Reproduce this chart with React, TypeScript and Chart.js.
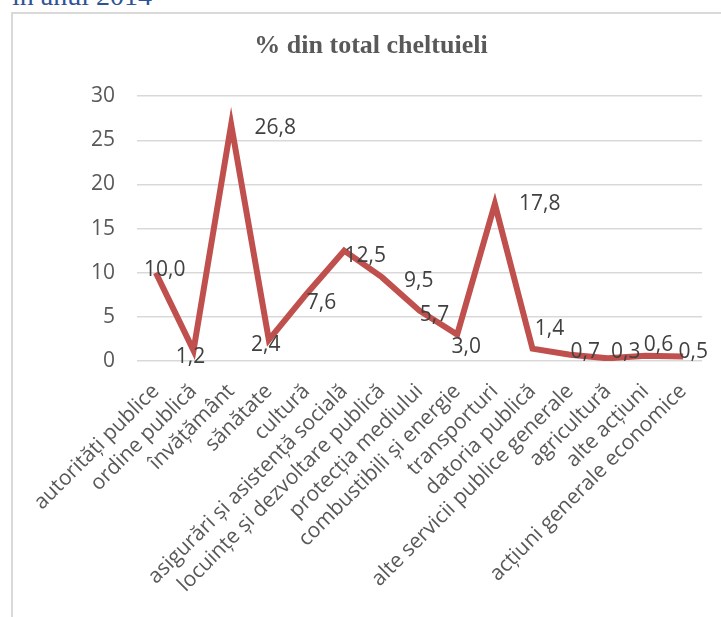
import React, { useEffect, useRef } from "react";
import { Chart, registerables } from "chart.js";

Chart.register(...registerables);

// Spending categories and their share of total expenditure (%)
const categories: string[] = [
  "autorități publice",
  "ordine publică",
  "învățământ",
  "sănătate",
  "cultură",
  "asigurări și asistență socială",
  "locuințe și dezvoltare publică",
  "protecția mediului",
  "combustibili și energie",
  "transporturi",
  "datoria publică",
  "alte servicii publice generale",
  "agricultură",
  "alte acțiuni",
  "acțiuni generale economice",
];

const shares: number[] = [10.0, 1.2, 26.8, 2.4, 7.6, 12.5, 9.5, 5.7, 3.0, 17.8, 1.4, 0.7, 0.3, 0.6, 0.5];

const yTicks = { min: 0, max: 30, step: 5 };

// Hand-placed value label nudges (label centre relative to its point, px)
const labelNudges: [number, number][] = [
  [9, -4], [-3, 5], [44, 2], [-3, 4], [15, 8], [21, 4], [37, 2], [15, 3],
  [9, 11], [45, -1], [17, -21], [15, -4], [18, -8], [13, -12], [10, -6],
];

const SANS = "'Open Sans', sans-serif";
const SERIF = "'Liberation Serif', serif";
const LABEL_SIZE = 21;

const valueLabels = {
  id: "valueLabels",
  afterDatasetsDraw(chart: Chart) {
    const ctx = chart.ctx;
    const meta = chart.getDatasetMeta(0);
    ctx.save();
    ctx.font = `${LABEL_SIZE}px ${SANS}`;
    ctx.fillStyle = "#404040";
    ctx.textAlign = "center";
    ctx.textBaseline = "alphabetic";
    meta.data.forEach((pt: any, i: number) => {
      const v = shares[i];
      const [dx, dy] = labelNudges[i] || [0, 0];
      const text = v.toFixed(1).replace(".", ",");
      ctx.fillText(text, pt.x + dx, pt.y + dy + LABEL_SIZE * 0.357);
    });
    ctx.restore();
  },
};

function LineChart() {
  const ref = useRef<HTMLCanvasElement | null>(null);

  useEffect(() => {
    let chart: Chart | null = null;
    let cancelled = false;

    const build = () => {
      if (cancelled || !ref.current) return;
      chart = new Chart(ref.current, {
        type: "line",
        data: {
          labels: categories,
          datasets: [
            {
              label: "% din total cheltuieli",
              data: shares,
              borderColor: "#c0504d",
              backgroundColor: "#c0504d",
              borderWidth: 6,
              pointRadius: 0,
              pointHoverRadius: 0,
              tension: 0,
              borderJoinStyle: "miter",
              borderCapStyle: "butt",
              fill: false,
            },
          ],
        },
        options: {
          animation: false,
          responsive: false,
          maintainAspectRatio: false,
          events: [],
          layout: { padding: { left: 40, right: 19, top: 0, bottom: 0 } },
          plugins: {
            legend: { display: false },
            tooltip: { enabled: false },
            title: {
              display: true,
              text: "% din total cheltuieli",
              color: "#595959",
              font: { family: SERIF, size: 26, weight: "bold", lineHeight: 1.2 },
              padding: { top: 31, bottom: 34 },
            },
          },
          scales: {
            x: {
              offset: true,
              grid: { display: false, drawTicks: false },
              border: { display: false },
              ticks: {
                autoSkip: false,
                minRotation: 45,
                maxRotation: 45,
                padding: 18,
                color: "#595959",
                font: { family: SANS, size: 21 },
              },
              afterFit: (s: any) => {
                s.height = 256;
              },
            },
            y: {
              min: yTicks.min,
              max: yTicks.max,
              grid: { color: "#d9d9d9", lineWidth: 1.5, drawTicks: false },
              border: { display: false },
              ticks: {
                stepSize: yTicks.step,
                padding: 22,
                color: "#595959",
                font: { family: SANS, size: 21 },
              },
              afterFit: (s: any) => {
                s.width = 97;
              },
            },
          },
        },
        plugins: [valueLabels],
      });
    };

    const fonts = (document as any).fonts;
    if (fonts && fonts.load) {
      Promise.all([
        fonts.load(`21px "Open Sans"`),
        fonts.load(`bold 26px "Liberation Serif"`),
      ])
        .catch(() => undefined)
        .then(build);
    } else {
      build();
    }

    return () => {
      cancelled = true;
      if (chart) chart.destroy();
    };
  }, []);

  return <canvas ref={ref} width={721} height={617} style={{ position: "absolute", left: 0, top: 0 }} />;
}

export default function App() {
  return (
    <div
      style={{
        position: "fixed",
        left: 0,
        top: 0,
        width: 721,
        height: 617,
        overflow: "hidden",
        background: "#ffffff",
      }}
    >
      <div
        style={{
          position: "absolute",
          left: 12,
          top: -18,
          fontFamily: SERIF,
          fontSize: 28,
          lineHeight: "28px",
          color: "#2f5496",
          whiteSpace: "nowrap",
        }}
      >
        în anul 2014
      </div>
      <div
        style={{
          position: "absolute",
          left: 11,
          top: 12,
          width: 900,
          height: 900,
          border: "2px solid #d9d9d9",
          boxSizing: "border-box",
        }}
      />
      <LineChart />
    </div>
  );
}
